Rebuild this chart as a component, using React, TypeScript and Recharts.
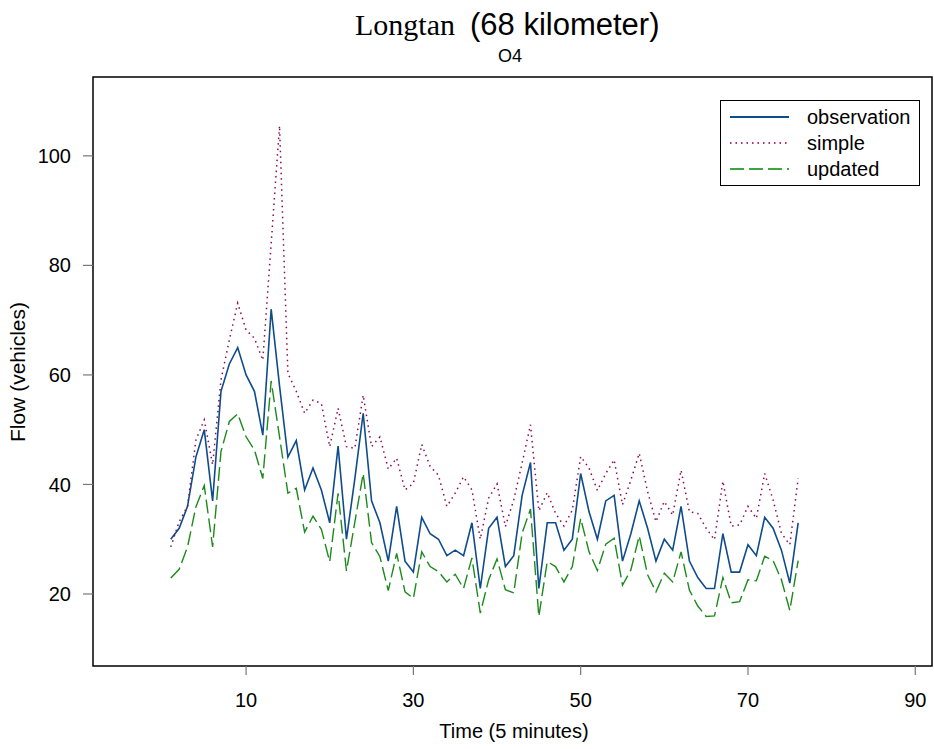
import * as React from 'react'
import { LineChart, Line, XAxis, YAxis, Legend, ReferenceArea } from 'recharts'

// 5-minute intervals
const timeSteps = [
  1, 2, 3, 4, 5, 6, 7, 8, 9, 10, 11, 12, 13, 14, 15, 16, 17, 18, 19, 20,
  21, 22, 23, 24, 25, 26, 27, 28, 29, 30, 31, 32, 33, 34, 35, 36, 37, 38, 39, 40,
  41, 42, 43, 44, 45, 46, 47, 48, 49, 50, 51, 52, 53, 54, 55, 56, 57, 58, 59, 60,
  61, 62, 63, 64, 65, 66, 67, 68, 69, 70, 71, 72, 73, 74, 75, 76,
]

const observation = [
  30, 32, 36, 45, 50, 37, 57, 62, 65, 60, 57, 49, 72, 58, 45, 48, 39, 43, 39, 33,
  47, 30, 41, 53, 37, 33, 26, 36, 26, 24, 34, 31, 30, 27, 28, 27, 33, 21, 32, 34,
  25, 27, 38, 44, 21, 33, 33, 28, 30, 42, 35, 30, 37, 38, 26, 31, 37, 32, 26, 30,
  28, 36, 26, 23, 21, 21, 31, 24, 24, 29, 27, 34, 32, 28, 22, 33,
]

const simple = [
  28.6, 33.2, 36.0, 48.1, 51.8, 43.6, 59.1, 66.4, 73.1, 68.2, 66.7, 62.7, 84.0, 105.5, 60.3, 57.0, 53.0, 55.4, 54.8, 46.9,
  53.9, 46.9, 46.6, 56.3, 46.9, 48.7, 42.8, 44.8, 39.0, 40.2, 47.3, 43.3, 41.7, 36.0, 38.4, 41.4, 39.0, 30.0, 37.5, 40.1,
  32.3, 37.2, 43.9, 50.9, 35.2, 38.5, 34.7, 32.4, 35.3, 45.1, 43.0, 38.9, 42.0, 44.5, 36.3, 40.8, 45.7, 38.7, 33.2, 36.9,
  34.4, 42.6, 35.0, 34.7, 32.0, 29.9, 40.6, 32.4, 32.6, 36.0, 33.8, 42.0, 37.2, 31.1, 29.0, 41.1,
]

const updated = [
  22.9, 24.5, 28.6, 35.9, 39.8, 28.6, 46.0, 51.5, 52.9, 48.7, 46.3, 41.1, 58.9, 48.7, 38.4, 39.3, 31.3, 34.2, 31.8, 25.9,
  38.4, 24.2, 33.1, 42.0, 29.4, 26.8, 20.6, 27.4, 20.4, 19.2, 27.7, 25.0, 24.1, 22.2, 23.6, 21.0, 26.6, 16.5, 22.6, 26.4,
  20.8, 20.2, 31.1, 35.5, 15.9, 25.9, 25.0, 22.2, 25.0, 33.8, 27.7, 24.3, 29.1, 30.2, 21.6, 24.4, 30.6, 23.5, 20.4, 23.8,
  22.2, 27.7, 20.7, 17.8, 15.9, 16.0, 23.0, 18.4, 18.6, 22.6, 22.4, 26.9, 26.1, 22.6, 17.0, 26.1,
]

const xTicks = [10, 30, 50, 70, 90]
const yTicks = [20, 40, 60, 80, 100]

const X_DOMAIN: [number, number] = [-8.3, 92]
const Y_DOMAIN: [number, number] = [6.85, 114.4]

const SANS = '"Liberation Sans", Arial, sans-serif'
const SERIF = '"Liberation Serif", "Times New Roman", serif'

const series = [
  { key: 'observation', color: '#0f4c8c', dash: undefined, width: 1.6, legendColor: '#0f4c8c' },
  { key: 'simple', color: '#8b0a50', dash: '1.5 4', width: 1.5, legendColor: '#b0306e' },
  { key: 'updated', color: '#1b8a1b', dash: '14 5', width: 1.4, legendColor: '#3fa53f' },
]

const data = timeSteps.map((t, i) => ({
  t,
  observation: observation[i],
  simple: simple[i],
  updated: updated[i],
}))

const renderLegend = () => (
  <div
    style={{
      width: 200,
      height: 86,
      boxSizing: 'border-box',
      border: '1.5px solid #000',
      background: '#fff',
      padding: '3px 0 0 8px',
      fontFamily: SANS,
      fontSize: 20,
      color: '#000',
    }}
  >
    {series.map(s => (
      <div key={s.key} style={{ display: 'flex', alignItems: 'center', height: 26 }}>
        <svg width={62} height={6} style={{ marginRight: 16 }}>
          <line x1={1} y1={3} x2={60} y2={3} stroke={s.legendColor} strokeWidth={2} strokeDasharray={s.dash} />
        </svg>
        <span style={{ lineHeight: '22px' }}>{s.key}</span>
      </div>
    ))}
  </div>
)

export default function App() {
  return (
    <div style={{ position: 'absolute', left: 0, top: 0, width: 934, height: 749, background: '#fff' }}>
      <LineChart width={934} height={749} data={data} margin={{ top: 77, right: 2, left: 0, bottom: 0 }}>
        <XAxis
          dataKey="t"
          type="number"
          domain={X_DOMAIN}
          ticks={xTicks}
          allowDataOverflow
          axisLine={false}
          tickLine={{ stroke: '#777', strokeWidth: 1.2 }}
          tickSize={9}
          tickMargin={18}
          height={83}
          tick={{ fill: '#000', fontSize: 20, fontFamily: SANS }}
        />
        <YAxis
          type="number"
          domain={Y_DOMAIN}
          ticks={yTicks}
          allowDataOverflow
          axisLine={false}
          tickLine={{ stroke: '#777', strokeWidth: 1.2 }}
          tickSize={10}
          tickMargin={12}
          width={93}
          tick={{ fill: '#000', fontSize: 20, fontFamily: SANS }}
        />
        {series.map(s => (
          <Line
            key={s.key}
            dataKey={s.key}
            type="linear"
            stroke={s.color}
            strokeWidth={s.width}
            strokeDasharray={s.dash}
            dot={false}
            activeDot={false}
            isAnimationActive={false}
          />
        ))}
        {/* plot frame */}
        <ReferenceArea
          x1={X_DOMAIN[0]}
          x2={X_DOMAIN[1]}
          y1={Y_DOMAIN[0]}
          y2={Y_DOMAIN[1]}
          fill="none"
          fillOpacity={0}
          stroke="#000"
          strokeWidth={1.5}
          ifOverflow="visible"
        />
        <Legend
          content={renderLegend}
          layout="horizontal"
          verticalAlign="middle"
          align="center"
          wrapperStyle={{ left: 720, top: 100, width: 200, height: 86 }}
        />
      </LineChart>

      <svg
        width={934}
        height={749}
        style={{ position: 'absolute', left: 0, top: 0, pointerEvents: 'none' }}
      >
        <text x={455} y={35} textAnchor="end" fontFamily={SERIF} fontSize={30} fill="#000">
          Longtan
        </text>
        <text x={470} y={35} textAnchor="start" fontFamily={SANS} fontSize={31} fill="#000">
          (68 kilometer)
        </text>
        <text x={510} y={62} textAnchor="middle" fontFamily={SANS} fontSize={18} fill="#000">
          O4
        </text>
        <text x={514} y={738} textAnchor="middle" fontFamily={SANS} fontSize={20} fill="#000">
          Time (5 minutes)
        </text>
        <text
          x={0}
          y={0}
          transform="translate(25 372) rotate(-90)"
          textAnchor="middle"
          fontFamily={SANS}
          fontSize={21}
          fill="#000"
        >
          Flow (vehicles)
        </text>
      </svg>
    </div>
  )
}
